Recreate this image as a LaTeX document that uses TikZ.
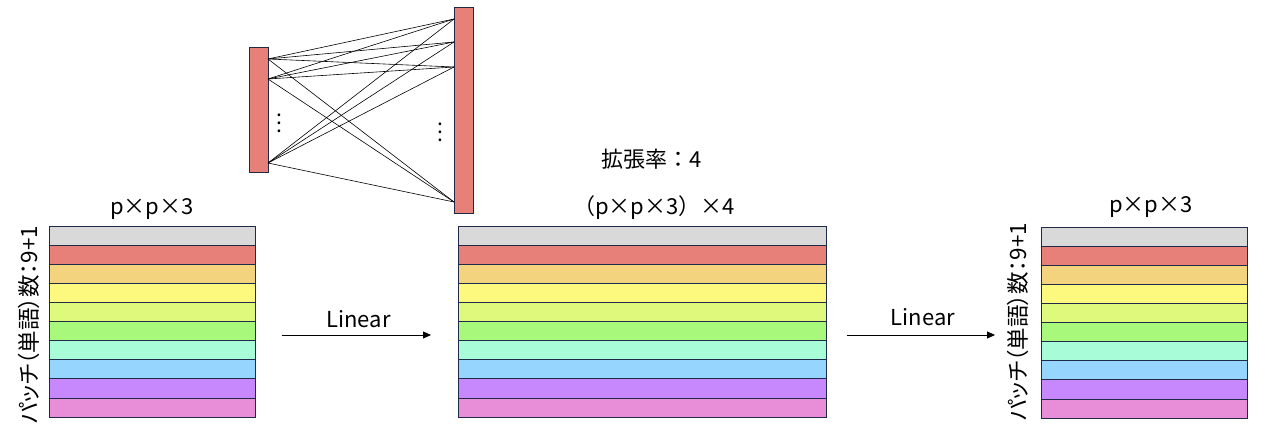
\documentclass[tikz,border=0pt]{standalone}
\usepackage{fontspec}
\setmainfont{Noto Sans CJK JP}
\newfontfamily\jpprop[RawFeature=+palt]{Noto Sans CJK JP}
\usetikzlibrary{arrows.meta}

\definecolor{edgeblue}{HTML}{1F2A4A}
\definecolor{rowgray}{HTML}{D9D9D9}
\definecolor{rowred}{HTML}{E8807A}
\definecolor{roworange}{HTML}{F4D37F}
\definecolor{rowyellow}{HTML}{FCF97E}
\definecolor{rowlime}{HTML}{DEF97B}
\definecolor{rowgreen}{HTML}{A8F87B}
\definecolor{rowmint}{HTML}{A8FCD8}
\definecolor{rowsky}{HTML}{96D5FD}
\definecolor{rowpurple}{HTML}{C788FD}
\definecolor{rowpink}{HTML}{E88ED8}

\begin{document}
\begin{tikzpicture}[x=1pt, y=-1pt,
    row/.style={rectangle, draw=edgeblue, line width=0.8pt, inner sep=0, minimum height=19.1pt},
    layer/.style={rectangle, draw=edgeblue, fill=rowred, line width=0.8pt, inner sep=0, minimum width=19pt},
    lbl/.style={inner sep=0, anchor=base, font=\fontsize{22}{26}\selectfont},
    side/.style={inner sep=0, rotate=90, font=\jpprop\fontsize{22.5}{26}\selectfont},
    wire/.style={line width=0.6pt, black},
    flow/.style={line width=0.8pt, -{Triangle[length=8pt, width=7pt]}}]
        \useasboundingbox (0,0) rectangle (1266,446);

        % fully connected layer
        \node (l1) [layer, minimum height=125pt] at (258.5, 110) {};
        \node (l2) [layer, minimum height=206pt, minimum width=19.5pt] at (464, 110) {};

        \coordinate (i1) at (268, 59);
        \coordinate (i2) at (268, 79);
        \coordinate (i3) at (268, 163);
        \coordinate (o1) at (454, 19);
        \coordinate (o2) at (454, 42);
        \coordinate (o3) at (454, 67);
        \coordinate (o4) at (454, 202);

        \path[wire]
        (i1) edge (o1) edge (o2) edge (o3) edge (o4)
        (i2) edge (o1) edge (o2) edge (o3) edge (o4)
        (i3) edge (o1) edge (o2) edge (o3) edge (o4)
        ;

        \node (d1) [inner sep=0] at (279, 117) {\scalebox{2.1}{$\vdots$}};
        \node (d2) [inner sep=0] at (440, 126) {\scalebox{2.1}{$\vdots$}};

        % patch blocks
        \foreach \c [count=\i] in {rowgray, rowred, roworange, rowyellow, rowlime, rowgreen, rowmint, rowsky, rowpurple, rowpink} {
            \node (a\i) [row, fill=\c, minimum width=206pt] at (152, {216.5+19.1*\i}) {};
            \node (b\i) [row, fill=\c, minimum width=368pt] at (642, {216.5+19.1*\i}) {};
            \node (c\i) [row, fill=\c, minimum width=206pt] at (1144, {217.5+19.1*\i}) {};
        }

        \node (ta) [lbl] at (152, 215) {p×p×3};
        \node (tr) [lbl] at (652, 168) {拡張率：4};
        \node (tb) [lbl] at (654, 215) {（p×p×3）×4};
        \node (tc) [lbl] at (1151, 213) {p×p×3};

        \node (sa) [side] at (29, 325) {パッチ（単語）数：9+1};
        \node (sc) [side] at (1018, 322) {パッチ（単語）数：9+1};

        \coordinate (f1) at (282, 335);
        \coordinate (g1) at (431, 335);
        \coordinate (f2) at (847, 335);
        \coordinate (g2) at (995, 335);
        \draw[flow] (f1) -- (g1);
        \draw[flow] (f2) -- (g2);

        \node (n1) [lbl] at (358.5, 327) {Linear};
        \node (n2) [lbl] at (923, 326) {Linear};
      \end{tikzpicture}
\end{document}
